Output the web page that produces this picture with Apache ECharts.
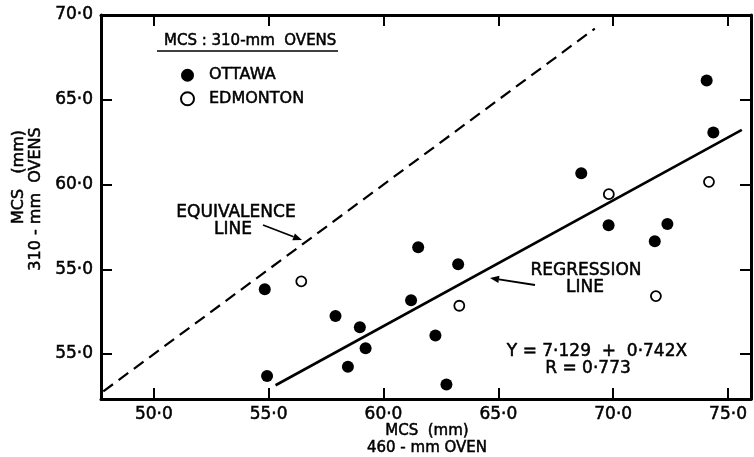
<!DOCTYPE html>
<html>
<head>
<meta charset="utf-8">
<script src="https://cdn.jsdelivr.net/npm/echarts@6/dist/echarts.min.js"></script>
<style>
  html, body { margin: 0; padding: 0; background: #fff; }
  #chart { width: 754px; height: 457px; }
</style>
</head>
<body>
<div id="chart"></div>
<script>
// MCS measured in the 460-mm oven (x) vs the 310-mm ovens (y)
const ottawa = [
  [54.83, 53.82], [54.93, 48.70], [57.91, 52.24], [58.97, 51.58],
  [58.45, 49.25], [59.22, 50.35], [61.20, 53.17], [61.51, 56.30],
  [62.26, 51.10], [62.74, 48.20], [63.25, 55.30], [68.61, 60.67],
  [69.80, 57.60], [71.81, 56.66], [72.36, 57.67], [74.07, 66.14],
  [74.36, 63.07]
];
const edmonton = [
  [56.42, 54.29], [63.30, 52.85], [69.81, 59.43], [71.86, 53.42],
  [74.17, 60.16]
];

const xTicks = [50, 55, 60, 65, 70, 75];
const xTickLabels = ['50·0', '55·0', '60·0', '65·0', '70·0', '75·0'];
const yTicks = [50, 55, 60, 65, 70];
const yTickLabels = ['55·0', '55·0', '60·0', '65·0', '70·0'];

// Y = 7.129 + 0.742X, fitted over the 460-mm oven range
const regIntercept = 7.129;
const regSlope = 0.742;
const regXRange = [55.3, 75.6];
// 1:1 equivalence line
const equivRange = [47.8, 69.2];

const FONT = 'DejaVu Sans';
const INK = '#000';
const INK_EDGE = 0.5;   // slight stroke to give the lettering its inked weight

function labelFor(ticks, labels) {
  return v => {
    const i = ticks.findIndex(t => Math.abs(t - v) < 1e-6);
    return i >= 0 ? labels[i] : '';
  };
}

function arrow(x1, y1, x2, y2) {
  const dx = x2 - x1, dy = y2 - y1;
  const len = Math.hypot(dx, dy);
  const ux = dx / len, uy = dy / len;
  const hl = 9, hw = 3.6;
  const bx = x2 - ux * hl, by = y2 - uy * hl;
  return [
    { type: 'line', shape: { x1, y1, x2: bx, y2: by }, style: { stroke: INK, lineWidth: 1.8 } },
    { type: 'polygon', shape: { points: [[x2, y2], [bx - uy * hw, by + ux * hw], [bx + uy * hw, by - ux * hw]] },
      style: { fill: INK } }
  ];
}

function text(t, x, y, size, align, rotation) {
  return {
    type: 'text', x, y, rotation: rotation || 0,
    style: { text: t, font: size + 'px "' + FONT + '"', fill: INK,
      stroke: INK, lineWidth: INK_EDGE,
      align: align || 'left', verticalAlign: 'middle' }
  };
}

const labelStyle = {
  fontFamily: FONT, fontSize: 17, color: INK,
  textBorderColor: INK, textBorderWidth: INK_EDGE
};

const axisCommon = {
  type: 'value',
  min: 47.7,
  max: 76.0,
  splitLine: { show: false },
  axisLine: { show: true, onZero: false, lineStyle: { color: INK, width: 3 } },
  axisTick: { show: true, inside: true, length: 11, lineStyle: { color: INK, width: 2 }, customValues: xTicks }
};

const yAxisCommon = {
  type: 'value',
  min: 47.35,
  max: 70.0,
  splitLine: { show: false },
  axisLine: { show: true, onZero: false, lineStyle: { color: INK, width: 3 } },
  axisTick: { show: true, inside: true, length: 11, lineStyle: { color: INK, width: 2 }, customValues: yTicks }
};

const chart = echarts.init(document.getElementById('chart'));
chart.setOption({
  backgroundColor: '#fff',
  animation: false,
  grid: { left: 101, right: 3, top: 15, bottom: 58, containLabel: false },
  legend: {
    data: ['OTTAWA', 'EDMONTON'],
    orient: 'vertical',
    left: 180,
    top: 67,
    padding: 0,
    itemGap: 7,
    itemWidth: 13,
    itemHeight: 13,
    textStyle: { fontFamily: FONT, fontSize: 16, lineHeight: 13, color: INK,
      textBorderColor: INK, textBorderWidth: INK_EDGE, padding: [0, 0, 0, 10] }
  },
  xAxis: [
    Object.assign({}, axisCommon, {
      position: 'bottom',
      axisLabel: Object.assign({ show: true, customValues: xTicks,
        formatter: labelFor(xTicks, xTickLabels), margin: 7 }, labelStyle)
    }),
    Object.assign({}, axisCommon, { position: 'top', axisLabel: { show: false } })
  ],
  yAxis: [
    Object.assign({}, yAxisCommon, {
      position: 'left',
      axisLabel: Object.assign({ show: true, customValues: yTicks,
        formatter: labelFor(yTicks, yTickLabels), margin: 8 }, labelStyle)
    }),
    Object.assign({}, yAxisCommon, { position: 'right', axisLabel: { show: false } })
  ],
  series: [
    {
      name: 'EQUIVALENCE',
      type: 'line',
      data: [[equivRange[0], equivRange[0]], [equivRange[1], equivRange[1]]],
      showSymbol: false,
      lineStyle: { color: INK, width: 2.2, type: [12, 7] },
      silent: true
    },
    {
      name: 'REGRESSION',
      type: 'line',
      data: regXRange.map(x => [x, regIntercept + regSlope * x]),
      showSymbol: false,
      lineStyle: { color: INK, width: 2.6 },
      silent: true
    },
    {
      name: 'OTTAWA',
      type: 'scatter',
      data: ottawa,
      symbol: 'circle',
      symbolSize: 12,
      itemStyle: { color: INK, opacity: 1 }
    },
    {
      name: 'EDMONTON',
      type: 'scatter',
      data: edmonton,
      symbol: 'circle',
      symbolSize: 10,
      itemStyle: { color: '#fff', borderColor: INK, borderWidth: 1.8, opacity: 1 }
    }
  ],
  graphic: [
    // legend heading with underline
    text('MCS : 310-mm  OVENS', 164, 41, 15, 'left'),
    { type: 'line', shape: { x1: 157, y1: 51, x2: 338, y2: 51 }, style: { stroke: INK, lineWidth: 1.6 } },

    // equivalence line callout
    text('EQUIVALENCE', 236, 213, 17, 'center'),
    text('LINE', 233, 230, 17, 'center'),
    ...arrow(263, 225, 302, 240),

    // regression line callout
    text('REGRESSION', 586, 271, 17, 'center'),
    text('LINE', 585, 288, 17, 'center'),
    ...arrow(535, 285, 490, 278),

    // fitted equation
    text('Y = 7·129  +  0·742X', 597, 352, 17, 'center'),
    text('R = 0·773', 588, 369, 17, 'center'),

    // axis titles
    text('MCS  (mm)', 427, 431, 15, 'center'),
    text('460 - mm OVEN', 427, 448, 15, 'center'),
    text('MCS   (mm)', 19, 177, 16, 'center', Math.PI / 2),
    text('310 - mm  OVENS', 36, 199, 16, 'center', Math.PI / 2)
  ]
});
</script>
</body>
</html>
